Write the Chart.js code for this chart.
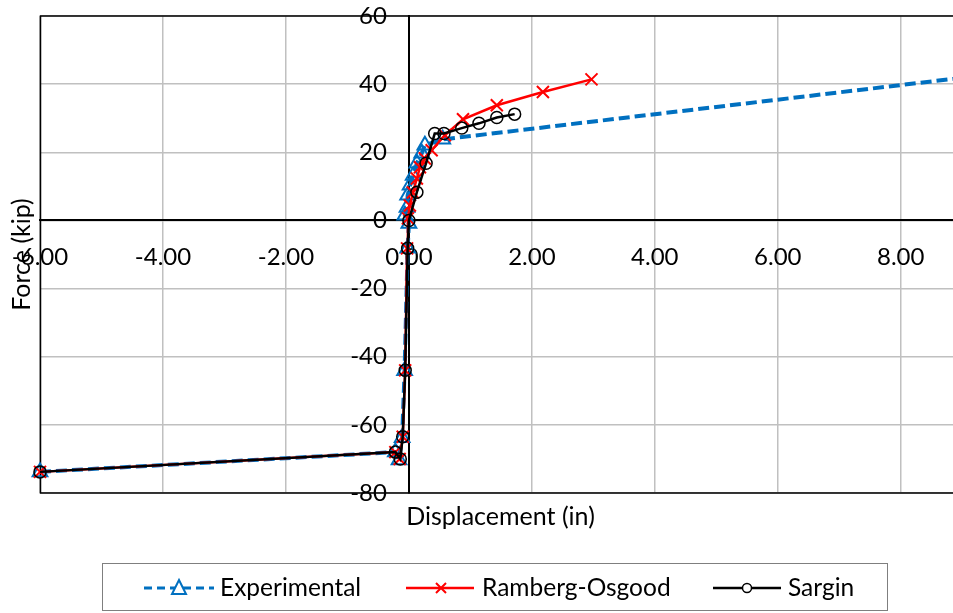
<!DOCTYPE html>
<html>
<head>
<meta charset="utf-8">
<script src="https://cdn.jsdelivr.net/npm/chart.js@4/dist/chart.umd.min.js"></script>
<style>
  html, body { margin: 0; padding: 0; background: #ffffff; }
  canvas { display: block; }
</style>
</head>
<body>
<canvas id="chart" width="953" height="613"></canvas>
<script>
// Force–displacement curves: measured response and two analytical fits
const seriesNames = ['Experimental', 'Ramberg-Osgood', 'Sargin'];

const expDisp  = [-6.00, -0.22, -0.16, -0.11, -0.07, -0.02, 0.00, -0.065, -0.03, -0.02, 0.02, 0.07, 0.13, 0.21, 0.26, 0.55, 10.00];
const expForce = [-73.8, -68.0, -70.3, -63.8, -44.1, -8.2, -0.9, 1.5, 3.8, 7.4, 10.3, 13.2, 16.8, 19.7, 22.1, 23.8, 44.0];

const roDisp  = [-6.00, -0.22, -0.15, -0.10, -0.06, -0.03, -0.016, 0.016, 0.065, 0.13, 0.18, 0.26, 0.37, 0.585, 0.88, 1.43, 2.18, 2.97];
const roForce = [-73.8, -68.0, -70.0, -63.5, -44.0, -8.2, 0.6, 4.4, 8.2, 12.3, 15.6, 18.2, 20.6, 25.0, 29.7, 33.8, 37.7, 41.4];

const sarDisp  = [-6.00, -0.22, -0.14, -0.10, -0.06, -0.02, 0.00, 0.13, 0.28, 0.42, 0.57, 0.86, 1.14, 1.43, 1.72];
const sarForce = [-73.8, -68.0, -70.0, -63.5, -44.0, -8.2, 0.0, 8.3, 16.8, 25.5, 25.5, 27.1, 28.5, 30.2, 31.2];

const xTicks = [-6, -4, -2, 0, 2, 4, 6, 8];
const yTicks = [-80, -60, -40, -20, 0, 20, 40, 60];

const FONT = 'Lato, "Open Sans", sans-serif';
const colors = ['#0070C0', '#FF0000', '#000000'];

const toPoints = (xs, ys) => xs.map((x, i) => ({ x: x, y: ys[i] }));

// keep the plot rectangle fixed: axes sit at the zero lines and take no room
const noPadding = s => { s.paddingLeft = 0; s.paddingRight = 0; s.paddingTop = 0; s.paddingBottom = 0; };

// Plot frame, force tick labels, axis titles and boxed legend
const decorations = {
  id: 'decorations',
  beforeDatasetsDraw(chart) {
    const { ctx, chartArea: a } = chart;
    ctx.save();
    ctx.strokeStyle = '#000000';
    ctx.lineWidth = 1.5;
    ctx.strokeRect(a.left + 0.5, a.top, a.right - a.left + 4, a.bottom - a.top);
    ctx.restore();
  },
  afterDraw(chart) {
    const { ctx, chartArea: a, scales } = chart;
    ctx.save();
    ctx.fillStyle = '#000000';

    // force tick labels, right-aligned left of the zero-displacement axis
    ctx.font = '24px ' + FONT;
    ctx.textAlign = 'right';
    ctx.textBaseline = 'middle';
    const x0 = scales.x.getPixelForValue(0);
    yTicks.forEach(v => ctx.fillText(String(v), x0 - 22, scales.y.getPixelForValue(v)));

    ctx.font = '25px ' + FONT;
    ctx.textAlign = 'center';
    ctx.fillText('Displacement (in)', (a.left + a.right) / 2 + 4, 517);
    ctx.save();
    ctx.translate(22, (a.top + a.bottom) / 2);
    ctx.rotate(-Math.PI / 2);
    ctx.fillText('Force (kip)', 0, 0);
    ctx.restore();

    // legend box
    ctx.strokeStyle = '#7f7f7f';
    ctx.lineWidth = 1;
    ctx.strokeRect(102.5, 563.5, 785, 47);
    const ly = 588;

    // Experimental sample
    ctx.strokeStyle = colors[0];
    ctx.lineWidth = 3;
    ctx.setLineDash([8, 5]);
    ctx.beginPath(); ctx.moveTo(144, ly); ctx.lineTo(214, ly); ctx.stroke();
    ctx.setLineDash([]);
    ctx.lineWidth = 2;
    ctx.fillStyle = '#ffffff';
    ctx.beginPath();
    ctx.moveTo(179, ly - 8); ctx.lineTo(186, ly + 6); ctx.lineTo(172, ly + 6); ctx.closePath();
    ctx.fill(); ctx.stroke();

    // Ramberg-Osgood sample
    ctx.strokeStyle = colors[1];
    ctx.lineWidth = 2.5;
    ctx.beginPath(); ctx.moveTo(406, ly); ctx.lineTo(474, ly); ctx.stroke();
    ctx.lineWidth = 2;
    ctx.beginPath();
    ctx.moveTo(436, ly - 5); ctx.lineTo(446, ly + 5);
    ctx.moveTo(446, ly - 5); ctx.lineTo(436, ly + 5);
    ctx.stroke();

    // Sargin sample
    ctx.strokeStyle = colors[2];
    ctx.lineWidth = 2.5;
    ctx.beginPath(); ctx.moveTo(713, ly); ctx.lineTo(781, ly); ctx.stroke();
    ctx.lineWidth = 1.5;
    ctx.fillStyle = '#ffffff';
    ctx.beginPath(); ctx.arc(747, ly, 4.5, 0, Math.PI * 2); ctx.fill(); ctx.stroke();

    ctx.fillStyle = '#000000';
    ctx.font = '24.5px ' + FONT;
    ctx.textAlign = 'left';
    ctx.textBaseline = 'middle';
    ctx.fillText(seriesNames[0], 220, ly);
    ctx.fillText(seriesNames[1], 482, ly);
    ctx.fillText(seriesNames[2], 788, ly);
    ctx.restore();
  }
};

new Chart(document.getElementById('chart'), {
  type: 'scatter',
  data: {
    datasets: [
      {
        label: seriesNames[0],
        data: toPoints(expDisp, expForce),
        showLine: true,
        borderColor: colors[0],
        borderWidth: 4,
        borderDash: [11, 5],
        pointStyle: 'triangle',
        pointRadius: 8.5,
        pointBorderWidth: 2,
        pointBorderColor: colors[0],
        pointBackgroundColor: 'rgba(255,255,255,0)',
        clip: false,
        order: 3
      },
      {
        label: seriesNames[1],
        data: toPoints(roDisp, roForce),
        showLine: true,
        borderColor: colors[1],
        borderWidth: 2.5,
        pointStyle: 'crossRot',
        pointRadius: 8.5,
        pointBorderWidth: 2,
        pointBorderColor: colors[1],
        clip: false,
        order: 2
      },
      {
        label: seriesNames[2],
        data: toPoints(sarDisp, sarForce),
        showLine: true,
        borderColor: colors[2],
        borderWidth: 2.5,
        pointStyle: 'circle',
        pointRadius: 6,
        pointBorderWidth: 1.5,
        pointBorderColor: colors[2],
        pointBackgroundColor: 'rgba(255,255,255,0)',
        clip: false,
        order: 1
      }
    ]
  },
  options: {
    responsive: false,
    animation: false,
    devicePixelRatio: 1,
    layout: { autoPadding: false, padding: { left: 40, right: 0, top: 16, bottom: 120 } },
    plugins: { legend: { display: false }, tooltip: { enabled: false } },
    scales: {
      x: {
        type: 'linear',
        position: { y: 0 },
        min: -6,
        max: 8.85,
        afterBuildTicks: s => { s.ticks = xTicks.map(v => ({ value: v })); },
        afterFit: noPadding,
        grid: { color: '#c0c0c0', lineWidth: 1.5, drawTicks: false },
        border: { color: '#000000', width: 2 },
        ticks: {
          color: '#000000',
          font: { family: FONT, size: 24 },
          padding: 22,
          maxRotation: 0,
          autoSkip: false,
          callback: v => v.toFixed(2)
        }
      },
      y: {
        type: 'linear',
        position: { x: 0 },
        min: -80,
        max: 60,
        afterBuildTicks: s => { s.ticks = yTicks.map(v => ({ value: v })); },
        afterFit: noPadding,
        grid: { color: '#c0c0c0', lineWidth: 1.5, drawTicks: false },
        border: { color: '#000000', width: 2 },
        ticks: { display: false }
      }
    }
  },
  plugins: [decorations]
});
</script>
</body>
</html>
